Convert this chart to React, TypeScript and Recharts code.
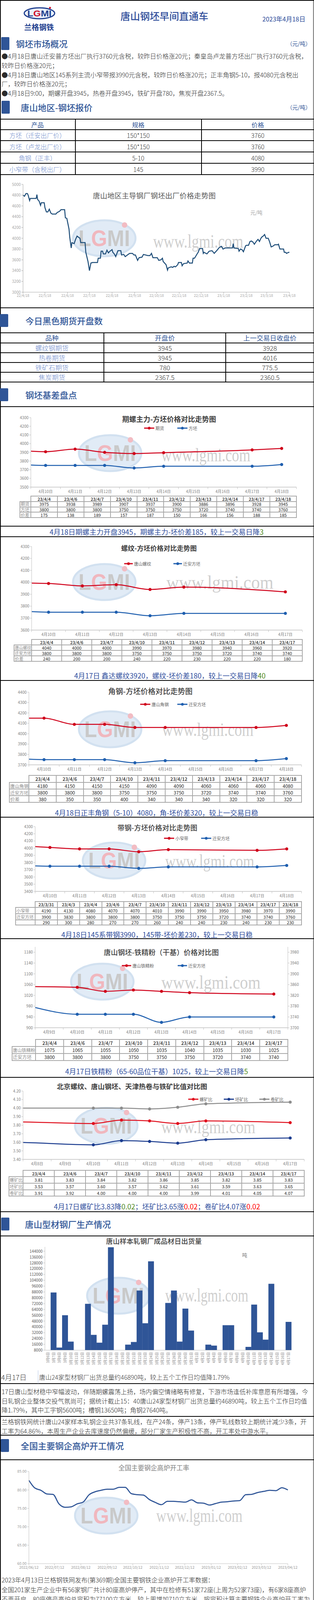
import React from 'react';
import { LineChart, Line, XAxis, YAxis, BarChart, Bar } from 'recharts';

const PAGE_W = 804;
const PAGE_H = 4582;
const FONT = '"Noto Sans CJK SC","Noto Sans",sans-serif';
const NAVY = '#2F5597';
const HEAD = '#2E4C9A';
const CAP = '#2F4E9E';
const GREEN = '#4F8A1E';
const REDTXT = '#FF0000';
const AX_T = '#808080';
const AX_L = '#BFBFBF';
const DAY = 86400000;

// ---------------- data ----------------
const marketLines = [
  '●4月18日唐山迁安普方坯出厂执行3760元含税，较昨日价格涨20元；秦皇岛卢龙普方坯出厂执行3760元含税，',
  '较昨日价格涨20元；',
  '●4月18日唐山地区145系列主流小窄带报3990元含税，较昨日价格涨20元；正丰角钢5-10，报4080元含税出',
  '厂，较昨日价格涨20元；',
  '●4月18日9:00，期螺开盘3945，热卷开盘3945，铁矿开盘780，焦炭开盘2367.5。',
];

const quoteHeader = ['产品', '规格', '价格'];
const quoteProducts = ['方坯（迁安出厂价）', '方坯（卢龙出厂价）', '角钢（正丰）', '小窄带（含税出厂）'];
const quoteSpecs = ['150*150', '150*150', '5-10', '145'];
const quotePrices = ['3760', '3760', '4080', '3990'];

const futHeader = ['品种', '开盘价', '上一交易日收盘价'];
const futNames = ['螺纹钢期货', '热卷期货', '铁矿石期货', '焦炭期货'];
const futOpen = ['3945', '3945', '780', '2367.5'];
const futPrev = ['3928', '4016', '775.5', '2360.5'];

// chart 1: days since 2022-04-18, price
const trendTickLabels = ['22/4/18', '22/5/18', '22/6/18', '22/7/18', '22/8/18', '22/9/18', '22/10/18', '22/11/18', '22/12/18', '23/1/18', '23/2/18', '23/3/18', '23/4/18'];
const trendSeries: [number, number][] = [
  [0, 4800], [2, 4780], [4, 4830], [6, 4830], [7, 4800], [9, 4700], [10, 4740], [12, 4740], [18, 4740], [19, 4810],
  [20, 4720], [22, 4690], [24, 4610], [25, 4660], [29, 4660], [30, 4570], [32, 4490], [34, 4490], [36, 4540], [38, 4470],
  [40, 4450], [45, 4450], [47, 4480], [50, 4500], [52, 4530], [57, 4530], [58, 4380], [60, 4370], [63, 4170], [64, 4020],
  [66, 3820], [67, 3920], [70, 3900], [72, 3980], [74, 4040], [78, 4000], [79, 3920], [85, 3920], [86, 3740], [89, 3570],
  [91, 3400], [93, 3540], [95, 3550], [102, 3550], [103, 3630], [106, 3630], [107, 3760], [109, 3760], [110, 3710], [113, 3710],
  [115, 3780], [117, 3730], [119, 3760], [122, 3790], [123, 3740], [125, 3710], [127, 3660], [130, 3770], [134, 3770], [135, 3690],
  [138, 3700], [140, 3660], [143, 3690], [146, 3720], [150, 3720], [152, 3690], [154, 3690], [157, 3590], [159, 3640], [163, 3650],
  [165, 3700], [171, 3680], [174, 3680], [176, 3720], [178, 3640], [184, 3640], [186, 3590], [189, 3600], [191, 3630], [192, 3570],
  [196, 3510], [198, 3410], [199, 3450], [203, 3470], [205, 3460], [207, 3480], [209, 3470], [212, 3510], [213, 3550], [217, 3550],
  [218, 3490], [220, 3530], [225, 3540], [226, 3580], [228, 3540], [232, 3540], [233, 3630], [235, 3630], [239, 3720], [240, 3740],
  [242, 3810], [246, 3810], [247, 3720], [248, 3740], [252, 3710], [255, 3760], [259, 3770], [262, 3720], [266, 3780], [269, 3830],
  [272, 3850], [274, 3800], [277, 3820], [287, 3820], [288, 3900], [289, 3820], [295, 3810], [296, 3760], [298, 3800], [300, 3790],
  [302, 3750], [305, 3860], [306, 3870], [309, 3870], [311, 3940], [313, 3950], [315, 3930], [317, 3890], [320, 3950], [322, 3980],
  [324, 3940], [326, 4000], [327, 4020], [329, 4040], [331, 4070], [333, 4000], [336, 4000], [338, 3930], [340, 3840], [342, 3850],
  [345, 3880], [349, 3880], [350, 3890], [352, 3800], [354, 3800], [357, 3800], [358, 3740], [360, 3740], [361, 3720], [364, 3740],
  [365, 3740],
];

// chart 2
const c2Cats = ['4月10日', '4月11日', '4月12日', '4月13日', '4月14日', '4月15日', '4月16日', '4月17日', '4月18日'];
const c2Dates = ['23/4/4', '23/4/6', '23/4/7', '23/4/10', '23/4/11', '23/4/12', '23/4/13', '23/4/14', '23/4/17', '23/4/18'];
const c2Futures = [3975, 3938, 3989, 3907, 3937, 3900, 3886, 3896, 3928, 3945];
const c2Billet = [3800, 3800, 3800, 3750, 3750, 3750, 3720, 3740, 3740, 3760];
const c2Spread = [175, 138, 189, 157, 187, 150, 166, 156, 188, 185];

// chart 3
const c3Cats = ['4月10日', '4月11日', '4月12日', '4月13日', '4月14日', '4月15日', '4月16日', '4月17日'];
const c3Dates = ['23/4/4', '23/4/6', '23/4/7', '23/4/10', '23/4/11', '23/4/12', '23/4/13', '23/4/14', '23/4/17'];
const c3Rebar = [4040, 4000, 4000, 3990, 3970, 3980, 3940, 3960, 3920];
const c3Billet = [3800, 3800, 3800, 3750, 3750, 3750, 3720, 3740, 3740];
const c3Spread = [240, 200, 200, 240, 220, 230, 220, 220, 180];

// chart 4
const c4Cats = ['4月10日', '4月11日', '4月12日', '4月13日', '4月14日', '4月15日', '4月16日', '4月17日', '4月18日'];
const c4Dates = ['23/4/4', '23/4/6', '23/4/7', '23/4/10', '23/4/11', '23/4/12', '23/4/13', '23/4/14', '23/4/17', '23/4/18'];
const c4Angle = [4180, 4150, 4150, 4150, 4090, 4090, 4060, 4060, 4060, 4080];
const c4Billet = [3800, 3800, 3800, 3750, 3750, 3750, 3720, 3740, 3740, 3760];
const c4Spread = [380, 350, 350, 400, 340, 340, 340, 320, 320, 320];

// chart 5
const c5Cats = ['4月10日', '4月11日', '4月12日', '4月13日', '4月14日', '4月15日', '4月16日', '4月17日', '4月18日'];
const c5Dates = ['23/3/31', '23/4/3', '23/4/4', '23/4/6', '23/4/7', '23/4/10', '23/4/11', '23/4/12', '23/4/13', '23/4/14', '23/4/17', '23/4/18'];
const c5Strip = [4190, 4130, 4080, 4070, 4070, 4010, 3990, 3990, 3950, 3980, 3970, 3990];
const c5Billet = [3900, 3830, 3800, 3800, 3800, 3750, 3750, 3750, 3720, 3740, 3740, 3760];
const c5Spread = [290, 300, 280, 270, 270, 260, 240, 240, 230, 240, 230, 230];

// chart 6
const c6Cats = ['4月9日', '4月10日', '4月11日', '4月12日', '4月13日', '4月14日', '4月15日', '4月16日', '4月17日'];
const c6Dates = ['23/4/4', '23/4/6', '23/4/7', '23/4/10', '23/4/11', '23/4/12', '23/4/13', '23/4/14', '23/4/17'];
const c6Fines = [1075, 1065, 1055, 1050, 1035, 1040, 1035, 1030, 1025];
const c6Billet = [3800, 3800, 3800, 3750, 3750, 3750, 3720, 3740, 3740];

// chart 7
const c7Cats = ['4月8日', '4月9日', '4月10日', '4月11日', '4月12日', '4月13日', '4月14日', '4月15日', '4月16日', '4月17日'];
const c7Dates = ['23/4/4', '23/4/6', '23/4/7', '23/4/10', '23/4/11', '23/4/12', '23/4/13', '23/4/14', '23/4/17'];
const c7Rebar = [3.81, 3.83, 3.84, 3.82, 3.86, 3.85, 3.82, 3.85, 3.83];
const c7Billet = [3.53, 3.57, 3.60, 3.57, 3.62, 3.61, 3.59, 3.63, 3.65];
const c7Coil = [3.91, 3.92, 4.00, 4.00, 4.00, 3.99, 4.01, 4.05, 4.07];

// chart 8: daily shipments (t)
const shipCats = ['3月6日', '3月7日', '3月8日', '3月9日', '3月10日', '3月11日', '3月12日', '3月13日', '3月14日', '3月15日', '3月16日', '3月17日', '3月18日', '3月19日', '3月20日', '3月21日', '3月22日', '3月23日', '3月24日', '3月25日', '3月26日', '3月27日', '3月28日', '3月29日', '3月30日', '3月31日', '4月1日', '4月2日', '4月3日', '4月4日', '4月5日', '4月6日', '4月7日', '4月8日', '4月9日', '4月10日', '4月11日', '4月12日', '4月13日', '4月14日', '4月15日', '4月16日', '4月17日'];
const shipValues: (number | null)[] = [null, 87300, 11600, 56000, 19800, null, null, 71800, 29100, 18400, 43000, 149500, null, null, 15700, 19300, 90000, 45000, 130100, null, null, 72900, 90000, 19800, 65200, 35000, null, null, 15700, 14300, null, 42400, 42400, null, null, 12600, 70700, 32500, 22500, 99200, null, null, 46890];
const shipTicks = [8000, 16000, 24000, 32000, 40000, 48000, 56000, 64000, 72000, 80000, 88000, 96000, 104000, 112000, 120000, 128000, 136000, 144000];

// chart 9: weekly blast furnace rate (from 2022-06-16)
const bfTickLabels = ['2022/06/12', '2022/07/12', '2022/08/12', '2022/09/12', '2022/10/12', '2022/11/12', '2022/12/12', '2023/01/12', '2023/02/12', '2023/03/12', '2023/04/12'];
const bfRates = [82.6, 80.5, 79.9, 78.9, 78.8, 76.2, 75.3, 75.4, 76.2, 76.7, 78.7, 79.5, 79.9, 80.2, 80.2, 80.7, 80.7, 79.0, 78.7, 78.6, 77.4, 76.6, 76.0, 76.9, 76.9, 76.8, 76.7, 77.3, 76.5, 76.4, 75.9, 76.3, 76.7, 76.8, 77.0, 77.1, 78.7, 78.8, 79.3, 79.6, 79.9, 79.8, 80.6, 79.99];

// chart 10: days since 2022-10-19
const costTickLabels = ['10月19日', '10月26日', '11月2日', '11月9日', '11月16日', '11月23日', '11月30日', '12月7日', '12月14日', '12月21日', '12月28日', '1月4日', '1月11日', '1月18日', '1月25日', '2月1日', '2月8日', '2月15日', '2月22日', '3月1日', '3月8日', '3月15日', '3月22日', '3月29日', '4月5日', '4月12日'];
const qianAnBillet: [number, number][] = [
  [0, 3620], [1, 3590], [2, 3610], [5, 3630], [6, 3580], [7, 3580], [8, 3560], [9, 3510], [11, 3440], [12, 3410],
  [14, 3450], [15, 3450], [16, 3480], [20, 3470], [21, 3490], [22, 3470], [23, 3500], [27, 3520], [28, 3560], [30, 3560],
  [33, 3500], [34, 3510], [35, 3520], [36, 3530], [39, 3550], [41, 3580], [42, 3550], [44, 3550], [47, 3630], [49, 3630],
  [50, 3700], [52, 3730], [56, 3740], [57, 3810], [58, 3810], [60, 3760], [62, 3710], [63, 3750], [64, 3730], [66, 3730],
  [68, 3710], [69, 3710], [70, 3760], [71, 3760], [72, 3780], [73, 3770], [76, 3740], [77, 3730], [78, 3730], [79, 3780],
  [82, 3780], [83, 3800], [84, 3840], [85, 3820], [86, 3850], [87, 3840], [89, 3800], [91, 3800], [93, 3830], [97, 3860],
  [101, 3890], [103, 3900], [104, 3890], [105, 3810], [107, 3810], [110, 3770], [112, 3770], [113, 3790], [114, 3790], [115, 3770],
  [117, 3750], [118, 3770], [121, 3870], [124, 3870], [125, 3930], [126, 3930], [127, 3950], [128, 3930], [131, 3900], [132, 3900],
  [133, 3920], [134, 3940], [135, 3990], [137, 3970], [138, 3940], [139, 3970], [140, 3970], [142, 4030], [143, 4040], [145, 4050],
  [146, 4070], [147, 4050], [148, 4000], [150, 4000], [152, 3970], [153, 3920], [154, 3890], [155, 3840], [156, 3860], [159, 3860],
  [160, 3880], [162, 3880], [163, 3900], [165, 3870], [166, 3830], [167, 3800], [170, 3800], [171, 3770], [173, 3750], [175, 3750],
];
const billetCost: [number, number][] = [
  [0, 3765], [7, 3775], [14, 3740], [21, 3615], [28, 3630], [35, 3655], [42, 3680], [49, 3735], [56, 3840], [63, 3850],
  [70, 3885], [77, 3900], [84, 3875], [91, 3830], [98, 3830], [105, 3820], [112, 3845], [119, 3880], [126, 3905], [133, 3910],
  [140, 3905], [147, 3980], [154, 3955], [161, 3925], [168, 3925], [175, 3870],
];

// ---------------- helpers ----------------
const tblDay = (s: string) => { const [y, m, d] = s.split('/').map(Number); return Date.UTC(2000 + y, m - 1, d) / DAY; };
const catDay = (s: string) => { const m = s.match(/(\d+)月(\d+)日/) as RegExpMatchArray; return Date.UTC(2023, +m[1] - 1, +m[2]) / DAY; };
const costDay = (s: string) => { const m = s.match(/(\d+)月(\d+)日/) as RegExpMatchArray; const mo = +m[1]; return Date.UTC(mo >= 10 ? 2022 : 2023, mo - 1, +m[2]) / DAY; };
const range = (a: number, b: number, s: number) => { const r: number[] = []; for (let v = a; v <= b + 1e-9; v += s) r.push(Math.round(v * 100) / 100); return r; };

function frame(pl: number, pr: number, pt: number, pb: number, yw = 50, rw = 0, xh = 30) {
  return { top: pt - 10, height: pb - pt + 10 + xh, axisY: pb - pt + 10, margin: { top: 10, right: PAGE_W - pr - rw, bottom: 0, left: pl - yw } };
}

type TxtProps = { x: number; y: number; size?: number; color?: string; anchor?: 'left' | 'center' | 'right'; weight?: number; children?: React.ReactNode; family?: string; lh?: number };
function Txt({ x, y, size = 16, color = '#222', anchor = 'left', weight = 400, children, family = FONT, lh }: TxtProps) {
  const h = lh ?? Math.round(size * 1.4);
  const style: React.CSSProperties = { position: 'absolute', top: y - h / 2, height: h, lineHeight: h + 'px', fontSize: size, color, fontWeight: weight, fontFamily: family, whiteSpace: 'nowrap' };
  if (anchor === 'left') style.left = x;
  else if (anchor === 'right') style.right = PAGE_W - x;
  else { style.left = x; style.transform = 'translateX(-50%)'; }
  return <div style={style}>{children}</div>;
}

function Hl({ y, x1 = 0, x2 = PAGE_W, c = '#000', t = 1.5 }: { y: number; x1?: number; x2?: number; c?: string; t?: number }) {
  return <div style={{ position: 'absolute', left: x1, top: y - t / 2, width: x2 - x1, height: t, background: c }} />;
}
function Vl({ x, y1, y2, c = '#000', t = 1.5 }: { x: number; y1: number; y2: number; c?: string; t?: number }) {
  return <div style={{ position: 'absolute', left: x - t / 2, top: y1, width: t, height: y2 - y1, background: c }} />;
}

function Section({ y, title, barX, textX, unit }: { y: number; title: string; barX: number; textX: number; unit?: boolean }) {
  return (
    <>
      <div style={{ position: 'absolute', left: barX, top: y - 16.5, width: 21, height: 33, background: NAVY, borderRadius: 2 }} />
      <Txt x={textX} y={y} size={22} color={NAVY} weight={500}>{title}</Txt>
      {unit && <Txt x={796} y={y} size={14} color={NAVY} anchor="right">（元/吨）</Txt>}
    </>
  );
}

type LegItem = { x: number; label: string; color: string; dot?: boolean; w?: number };
function Legend({ y, items }: { y: number; items: LegItem[] }) {
  return (
    <>
      {items.map((it, i) => {
        const w = it.w ?? 26;
        return (
          <div key={i} style={{ position: 'absolute', left: it.x, top: y - 9, height: 18, lineHeight: '18px', display: 'flex', alignItems: 'center', whiteSpace: 'nowrap' }}>
            <svg width={w} height={10} style={{ marginRight: 3 }}>
              <line x1={0} y1={5} x2={w} y2={5} stroke={it.color} strokeWidth={3} />
              {it.dot !== false && <circle cx={w / 2} cy={5} r={3.5} fill={it.color} />}
            </svg>
            <span style={{ fontSize: 11, lineHeight: '18px', color: '#666', fontFamily: FONT }}>{it.label}</span>
          </div>
        );
      })}
    </>
  );
}

function SmallTable({ x0, x1, x2, ys, header, rows, fs = 11 }: { x0: number; x1: number; x2: number; ys: number[]; header: string[]; rows: { label: string; values: string[] }[]; fs?: number }) {
  const n = header.length;
  const cw = (x2 - x1) / n;
  const LC = '#A8A8A8';
  const els: React.ReactNode[] = [];
  ys.forEach((y, i) => els.push(<div key={'h' + i} style={{ position: 'absolute', left: i === 0 ? x1 : x0, top: y - 1, width: i === 0 ? x2 - x1 : x2 - x0, height: 2, background: LC }} />));
  for (let j = 0; j <= n; j++) {
    const x = x1 + j * cw;
    els.push(<div key={'v' + j} style={{ position: 'absolute', left: x - 1, top: ys[0] - 1, width: 2, height: ys[ys.length - 1] - ys[0] + 2, background: LC }} />);
  }
  els.push(<div key="v0" style={{ position: 'absolute', left: x0 - 1, top: ys[1] - 1, width: 2, height: ys[ys.length - 1] - ys[1] + 2, background: LC }} />);
  const cell = (key: string, x: number, w: number, y0: number, y1: number, text: string, opts: React.CSSProperties) => (
    <div key={key} style={{ position: 'absolute', left: x, top: y0, width: w, height: y1 - y0, lineHeight: (y1 - y0) + 'px', textAlign: 'center', fontSize: fs, fontFamily: FONT, color: '#262626', whiteSpace: 'nowrap', ...opts }}>{text}</div>
  );
  header.forEach((h, j) => els.push(cell('hd' + j, x1 + j * cw, cw, ys[0], ys[1], h, { fontWeight: 500 })));
  rows.forEach((r, i) => {
    const lw = x1 - x0 - 2;
    const lfs = Math.min(fs, (lw - 1) / Math.max(1, r.label.length));
    els.push(cell('lb' + i, x0 + 2, lw, ys[i + 1], ys[i + 2], r.label, { textAlign: 'left', color: '#8C8C8C', fontSize: lfs }));
    r.values.forEach((v, j) => els.push(cell('c' + i + '_' + j, x1 + j * cw, cw, ys[i + 1], ys[i + 2], v, {})));
  });
  return <>{els}</>;
}

const tickStyle = { fontSize: 10, fill: AX_T, fontFamily: FONT };

// category tick: label at the band centre given by the axis, tick marks at the band edges
function CatTick(props: any) {
  const { x, payload, fmt, band, axisY, n } = props;
  const idx = Math.round(payload.value - 0.5);
  return (
    <g>
      <line x1={x - band / 2} x2={x - band / 2} y1={axisY} y2={axisY + 5} stroke={AX_L} />
      {idx === n - 1 && <line x1={x + band / 2} x2={x + band / 2} y1={axisY} y2={axisY + 5} stroke={AX_L} />}
      <text x={x} y={axisY + 15} textAnchor="middle" fontSize={10} fill={AX_T} fontFamily={FONT}>{fmt(payload.value)}</text>
    </g>
  );
}

type CatSeries = { vals: number[]; color: string; axis?: 'L' | 'R' };
function CatChart({ pl, pr, pt, pb, cats, dates, series, yDomain, yTicks, yFmt, rDomain, rTicks }: {
  pl: number; pr: number; pt: number; pb: number; cats: string[]; dates: string[]; series: CatSeries[];
  yDomain: [number, number]; yTicks: number[]; yFmt?: (v: number) => string; rDomain?: [number, number]; rTicks?: number[];
}) {
  const hasR = !!rDomain;
  const f = frame(pl, pr, pt, pb, 50, hasR ? 50 : 0, 30);
  const n = cats.length;
  const c0 = catDay(cats[0]);
  const data = dates.map((d, i) => {
    const row: Record<string, number> = { x: tblDay(d) - c0 + 0.5 };
    series.forEach((s, k) => { row['s' + k] = s.vals[i]; });
    return row;
  });
  const labTicks = cats.map((_, i) => i + 0.5);
  const fmt = (v: number) => cats[Math.round(v - 0.5)] ?? '';
  return (
    <div style={{ position: 'absolute', left: 0, top: f.top }}>
      <LineChart width={PAGE_W} height={f.height} margin={f.margin} data={data}>
        <XAxis type="number" dataKey="x" domain={[0, n]} allowDataOverflow ticks={labTicks} interval={0} height={30}
          axisLine={{ stroke: AX_L, strokeWidth: 1.5 }} tickLine={false}
          tick={<CatTick fmt={fmt} band={(pr - pl) / n} axisY={f.axisY} n={n} />} />
        <YAxis yAxisId="L" domain={yDomain} ticks={yTicks} tickFormatter={yFmt} width={50} tick={tickStyle} axisLine={{ stroke: AX_L }} tickLine={{ stroke: AX_L }} tickSize={4} interval={0} />
        {hasR && <YAxis yAxisId="R" orientation="right" domain={rDomain} ticks={rTicks} width={50} tick={tickStyle} axisLine={{ stroke: AX_L }} tickLine={{ stroke: AX_L }} tickSize={4} interval={0} />}
        {series.map((s, k) => (
          <Line key={k} yAxisId={s.axis ?? 'L'} type="monotone" dataKey={'s' + k} stroke={s.color} strokeWidth={2.5}
            dot={{ r: 3.5, fill: s.color, stroke: s.color, strokeWidth: 1 }} isAnimationActive={false} />
        ))}
      </LineChart>
    </div>
  );
}

function TrendChart() {
  const f = frame(59, 741, 472, 748, 50, 0, 30);
  const base = tblDay(trendTickLabels[0]);
  const ticks = trendTickLabels.map((l) => tblDay(l) - base);
  const data = trendSeries.map(([d, v]) => ({ d, v }));
  return (
    <div style={{ position: 'absolute', left: 0, top: f.top }}>
      <LineChart width={PAGE_W} height={f.height} margin={f.margin} data={data}>
        <XAxis type="number" dataKey="d" domain={[0, 365]} ticks={ticks} interval={0} tickFormatter={(v: number) => trendTickLabels[ticks.indexOf(v)]} tick={{ fontSize: 9, fill: '#A6A6A6', fontFamily: FONT }} axisLine={{ stroke: '#A6A6A6' }} tickLine={{ stroke: '#A6A6A6' }} tickSize={4} height={30} />
        <YAxis domain={[3000, 5000]} ticks={range(3000, 5000, 200)} width={50} interval={0} tick={{ fontSize: 10, fill: '#A6A6A6', fontFamily: FONT }} axisLine={{ stroke: '#A6A6A6' }} tickLine={{ stroke: '#A6A6A6' }} tickSize={4} />
        <Line type="linear" dataKey="v" stroke="#1F4E79" strokeWidth={2.5} dot={false} isAnimationActive={false} />
      </LineChart>
    </div>
  );
}

function RotTick(props: any) {
  const { x, payload, fs = 9, fmt, axisY } = props;
  const label = fmt ? fmt(payload.value) : payload.value;
  return (
    <text transform={`translate(${x},${axisY + 5}) rotate(-90)`} textAnchor="end" dominantBaseline="central" fontSize={fs} fill={AX_T} fontFamily={FONT}>{label}</text>
  );
}

function ShipChart() {
  const f = frame(115, 746, 3191.5, 3456, 60, 0, 52);
  const data = shipCats.map((c, i) => ({ cat: c, v: shipValues[i] }));
  return (
    <div style={{ position: 'absolute', left: 0, top: f.top }}>
      <BarChart width={PAGE_W} height={f.height} margin={f.margin} data={data} barCategoryGap={0} barGap={0}>
        <XAxis dataKey="cat" interval={0} height={52} tick={<RotTick fs={9} axisY={f.axisY} />} tickLine={false} axisLine={{ stroke: AX_L }} />
        <YAxis domain={[8000, 150000]} ticks={shipTicks} width={60} interval={0} allowDataOverflow tick={{ fontSize: 10, fill: '#595959', fontFamily: FONT }} axisLine={{ stroke: AX_L }} tickLine={{ stroke: AX_L }} tickSize={4} />
        <Bar dataKey="v" fill="#2F5597" isAnimationActive={false} />
      </BarChart>
    </div>
  );
}

function BfChart() {
  const f = frame(74, 737, 3767, 4003, 50, 0, 25);
  const span = (bfRates.length - 1) * 7;
  const origin = Date.UTC(2022, 5, 12) / DAY;
  const axisDays = (Date.UTC(2023, 3, 12) / DAY) - origin;
  const tickPos = bfTickLabels.map((l) => { const [y, m, d] = l.split('/').map(Number); return ((Date.UTC(y, m - 1, d) / DAY) - origin) * span / axisDays; });
  const data = bfRates.map((v, i) => ({ x: i * 7, v }));
  return (
    <div style={{ position: 'absolute', left: 0, top: f.top }}>
      <LineChart width={PAGE_W} height={f.height} margin={f.margin} data={data}>
        <XAxis type="number" dataKey="x" domain={[0, span]} ticks={tickPos} interval={0} tickFormatter={(v: number) => bfTickLabels[tickPos.indexOf(v)]} tick={{ fontSize: 9.5, fill: '#999', fontFamily: FONT }} axisLine={{ stroke: AX_L }} tickLine={{ stroke: AX_L }} tickSize={4} height={25} />
        <YAxis domain={[60, 85]} ticks={[60, 65, 70, 75, 80, 85]} tickFormatter={(v: number) => v.toFixed(2)} width={50} interval={0} tick={{ fontSize: 9.5, fill: '#999', fontFamily: FONT }} axisLine={{ stroke: AX_L }} tickLine={{ stroke: AX_L }} tickSize={4} />
        <Line type="monotone" dataKey="v" stroke="#2F5597" strokeWidth={2.8} dot={false} isAnimationActive={false} />
      </LineChart>
    </div>
  );
}

function CostChart() {
  const f = frame(55, 767, 4245, 4483, 50, 0, 50);
  const base = costDay(costTickLabels[0]);
  const ticks = costTickLabels.map((l) => costDay(l) - base);
  const rm = new Map(qianAnBillet);
  const bm = new Map(billetCost);
  const days = Array.from(new Set([...qianAnBillet.map((p) => p[0]), ...billetCost.map((p) => p[0])])).sort((a, b) => a - b);
  const data = days.map((d) => ({ d, r: rm.has(d) ? rm.get(d) : null, b: bm.has(d) ? bm.get(d) : null }));
  const fmt = (v: number) => costTickLabels[ticks.indexOf(v)];
  return (
    <div style={{ position: 'absolute', left: 0, top: f.top }}>
      <LineChart width={PAGE_W} height={f.height} margin={f.margin} data={data}>
        <XAxis type="number" dataKey="d" domain={[0, 175]} ticks={ticks} interval={0} height={50} tick={<RotTick fs={8} fmt={fmt} axisY={f.axisY} />} axisLine={{ stroke: AX_L }} tickLine={{ stroke: AX_L }} tickSize={4} />
        <YAxis domain={[3300, 4200]} ticks={range(3300, 4200, 150)} width={50} interval={0} tick={{ fontSize: 10, fill: AX_T, fontFamily: FONT }} axisLine={{ stroke: AX_L }} tickLine={{ stroke: AX_L }} tickSize={4} />
        <Line type="stepAfter" dataKey="b" stroke="#2F5597" strokeWidth={2.5} dot={false} connectNulls isAnimationActive={false} />
        <Line type="linear" dataKey="r" stroke="#C00000" strokeWidth={2.5} dot={false} connectNulls isAnimationActive={false} />
      </LineChart>
    </div>
  );
}

const wmarks = [
  { cx: 267, cy: 610, tx: 392, ty: 620, tw: 231 },
  { cx: 282, cy: 1160, tx: 413, ty: 1167, tw: 228 },
  { cx: 267, cy: 1490, tx: 426, ty: 1493, tw: 274 },
  { cx: 282, cy: 1867, tx: 415, ty: 1870, tw: 234 },
  { cx: 292, cy: 2203, tx: 423, ty: 2207, tw: 228 },
  { cx: 262, cy: 2513, tx: 413, ty: 2517, tw: 254 },
  { cx: 272, cy: 2882, tx: 413, ty: 2887, tw: 241 },
  { cx: 303, cy: 3317, tx: 423, ty: 3318, tw: 213 },
  { cx: 272, cy: 3880, tx: 400, ty: 3882, tw: 221 },
  { cx: 267, cy: 4372, tx: 405, ty: 4378, tw: 239 },
];

function Watermarks() {
  return (
    <svg width={PAGE_W} height={PAGE_H} style={{ position: 'absolute', left: 0, top: 0 }}>
      {wmarks.map((w, i) => (
        <g key={i}>
          <ellipse cx={w.cx} cy={w.cy} rx={80} ry={46} fill="#D7E5F3" stroke="#C3D7EC" strokeWidth={5} opacity={0.75} />
          <text x={w.cx - 66} y={w.cy + 20} fontSize={58} fontWeight="bold" fill="#C9C9C9" textLength={132} lengthAdjust="spacingAndGlyphs" fontFamily="Liberation Sans, sans-serif">
            L<tspan fill="#F0B7BE">G</tspan>MI
          </text>
          <circle cx={w.cx + 52} cy={w.cy - 34} r={7} fill="#F2BCC3" />
          <text x={w.tx} y={w.ty + 14} fontSize={48} fill="#CFCFCF" textLength={w.tw} lengthAdjust="spacingAndGlyphs" fontFamily="Liberation Serif, serif">www.lgmi.com</text>
        </g>
      ))}
    </svg>
  );
}

function Logo() {
  return (
    <>
      <svg width={100} height={40} style={{ position: 'absolute', left: 51, top: 14 }}>
        <ellipse cx={50} cy={20} rx={39} ry={14} fill="#EAF1FA" stroke="#1F3F8F" strokeWidth={3} />
        <text x={50} y={28} textAnchor="middle" fontSize={22} fontWeight="bold" fill="#1F3F8F" fontFamily="Liberation Sans, sans-serif" textLength={62} lengthAdjust="spacingAndGlyphs">
          L<tspan fill="#D0102A">G</tspan>MI
        </text>
        <circle cx={77} cy={6} r={2.5} fill="#D0102A" />
      </svg>
      <Txt x={100} y={68} size={19} color="#1F3F8F" anchor="center" weight={700}>兰格钢铁</Txt>
    </>
  );
}

const rules = [305, 332, 360, 389, 418, 447, 788, 852, 878, 903, 928, 953, 978, 1041, 1347, 1374, 1742, 2092, 2403, 2758, 3102, 3164, 3542, 3626, 3674, 3737, 4174, 4207];

export default function App() {
  const q = (v: number) => String(v);
  return (
    <div style={{ position: 'relative', width: PAGE_W, height: PAGE_H, background: '#fff', fontFamily: FONT, overflow: 'hidden' }}>
      <style>{'body{margin:0}'}</style>
      <Watermarks />

      {/* frame */}
      <Hl y={0.75} />
      <Hl y={PAGE_H - 0.75} />
      <Vl x={0.75} y1={0} y2={PAGE_H} />
      <Vl x={802.5} y1={0} y2={PAGE_H} />
      {rules.map((y) => <Hl key={y} y={y} />)}

      {/* header */}
      <Logo />
      <Txt x={421} y={40} size={25} color={HEAD} anchor="center" weight={500}>唐山钢坯早间直通车</Txt>
      <Txt x={782} y={48} size={16} color={HEAD} anchor="right">2023年4月18日</Txt>

      <Section y={111} title="钢坯市场概况" barX={3} textX={41} unit />
      {marketLines.map((l, i) => <Txt key={i} x={4} y={143 + i * 23.8} size={16} color="#2B2B2B" weight={300}>{l}</Txt>)}

      <Section y={274} title="唐山地区-钢坯报价" barX={4} textX={53} unit />
      <Vl x={193} y1={305} y2={447} />
      <Vl x={516} y1={305} y2={447} />
      {quoteHeader.map((h, j) => <Txt key={h} x={[96, 354, 660][j]} y={318.5} size={16} color={NAVY} anchor="center">{h}</Txt>)}
      {quoteProducts.map((p, i) => {
        const y = [346, 374.5, 403.5, 432.5][i];
        return (
          <React.Fragment key={i}>
            <Txt x={96} y={y} size={16} color="#6A88C9" anchor="center" weight={300}>{p}</Txt>
            <Txt x={354} y={y} size={16} color="#333" anchor="center" weight={300}>{quoteSpecs[i]}</Txt>
            <Txt x={660} y={y} size={16} color="#333" anchor="center" weight={300}>{quotePrices[i]}</Txt>
          </React.Fragment>
        );
      })}

      {/* chart 1 */}
      <Txt x={395} y={500} size={18.5} color="#595959" anchor="center">唐山地区主导钢厂钢坯出厂价格走势图</Txt>
      <Txt x={641} y={544} size={13} color="#A6A6A6">元/吨</Txt>
      <TrendChart />

      <Section y={820} title="今日黑色期货开盘数" barX={0} textX={65} />
      <Vl x={266} y1={852} y2={978} />
      <Vl x={578} y1={852} y2={978} />
      {futHeader.map((h, j) => <Txt key={h} x={[133, 422, 691][j]} y={865} size={17} color={NAVY} anchor="center" lh={24}>{h}</Txt>)}
      {futNames.map((nm, i) => {
        const y = [890.5, 915.5, 940.5, 965.5][i];
        return (
          <React.Fragment key={i}>
            <Txt x={133} y={y} size={17} color="#6A88C9" anchor="center" weight={300} lh={23}>{nm}</Txt>
            <Txt x={422} y={y} size={17} color="#333" anchor="center" weight={300} lh={23}>{futOpen[i]}</Txt>
            <Txt x={691} y={y} size={17} color="#333" anchor="center" weight={300} lh={23}>{futPrev[i]}</Txt>
          </React.Fragment>
        );
      })}

      <Section y={1010} title="钢坯基差盘点" barX={0} textX={65} />

      {/* chart 2 */}
      <Txt x={433} y={1072} size={18} color="#404040" anchor="center" weight={700}>期螺主力-方坯价格对比走势图</Txt>
      <Legend y={1096} items={[{ x: 369, label: '期货', color: '#D0021B' }, { x: 454, label: '方坯', color: '#1F5FAF' }]} />
      <CatChart pl={79} pr={759} pt={1069} pb={1247} cats={c2Cats} dates={c2Dates}
        series={[{ vals: c2Futures, color: '#D0021B' }, { vals: c2Billet, color: '#1F5FAF' }]}
        yDomain={[3500, 4300]} yTicks={range(3500, 4300, 100)} />
      <SmallTable x0={51} x1={79} x2={759} ys={[1270, 1284, 1297.5, 1311, 1325]} header={c2Dates}
        rows={[{ label: '期货', values: c2Futures.map(q) }, { label: '方坯', values: c2Billet.map(q) }, { label: '价差', values: c2Spread.map(q) }]} />
      <Txt x={401} y={1361} size={18} color={CAP} anchor="center" lh={24}>4月18日期螺主力开盘3945，期螺主力-坯价差185，较上一交易日降<span style={{ color: GREEN }}>3</span></Txt>

      {/* chart 3 */}
      <Txt x={407} y={1403} size={17} color="#404040" anchor="center" weight={700}>螺纹-方坯价格对比走势图</Txt>
      <Legend y={1443} items={[{ x: 318, label: '唐山螺纹', color: '#D0021B', w: 22 }, { x: 444, label: '迁安方坯', color: '#1F5FAF', w: 22 }]} />
      <CatChart pl={81} pr={774} pt={1399} pb={1613} cats={c3Cats} dates={c3Dates}
        series={[{ vals: c3Rebar, color: '#D0021B' }, { vals: c3Billet, color: '#1F5FAF' }]}
        yDomain={[3600, 4300]} yTicks={range(3600, 4300, 100)} />
      <SmallTable x0={36} x1={81} x2={774} ys={[1637, 1651, 1665, 1679, 1693]} header={c3Dates}
        rows={[{ label: '唐山螺纹', values: c3Rebar.map(q) }, { label: '迁安方坯', values: c3Billet.map(q) }, { label: '价差', values: c3Spread.map(q) }]} />
      <Txt x={435} y={1729} size={18} color={CAP} anchor="center">4月17日 鑫达螺纹3920，螺纹-坯价差180，较上一交易日降<span style={{ color: GREEN }}>40</span></Txt>

      {/* chart 4 */}
      <Txt x={385} y={1768} size={19} color="#404040" anchor="center" weight={500}>角钢-方坯价格对比走势图</Txt>
      <Legend y={1803} items={[{ x: 359, label: '唐山角钢', color: '#D0021B' }, { x: 454, label: '迁安方坯', color: '#1F5FAF' }]} />
      <CatChart pl={74} pr={772} pt={1772} pb={1958} cats={c4Cats} dates={c4Dates}
        series={[{ vals: c4Angle, color: '#D0021B' }, { vals: c4Billet, color: '#1F5FAF' }]}
        yDomain={[3700, 4400]} yTicks={range(3700, 4400, 100)} />
      <SmallTable x0={24} x1={74} x2={772} ys={[1985, 2003, 2020, 2037, 2054]} header={c4Dates} fs={12}
        rows={[{ label: '唐山角钢', values: c4Angle.map(q) }, { label: '迁安方坯', values: c4Billet.map(q) }, { label: '价差', values: c4Spread.map(q) }]} />
      <Txt x={401} y={2080} size={18} color={CAP} anchor="center">4月18日正丰角钢（5-10）4080，角-坯价差320，较上一交易日稳</Txt>

      {/* chart 5 */}
      <Txt x={403} y={2118} size={18} color="#404040" anchor="center" weight={500}>带钢-方坯价格对比走势图</Txt>
      <Legend y={2146} items={[{ x: 420, label: '小窄带', color: '#D0021B' }, { x: 515, label: '迁安方坯', color: '#1F5FAF' }]} />
      <CatChart pl={90} pr={772} pt={2116} pb={2282} cats={c5Cats} dates={c5Dates}
        series={[{ vals: c5Strip, color: '#D0021B' }, { vals: c5Billet, color: '#1F5FAF' }]}
        yDomain={[3400, 4300]} yTicks={range(3400, 4300, 100)} />
      <SmallTable x0={40} x1={90} x2={772} ys={[2308, 2323, 2339, 2355, 2368]} header={c5Dates}
        rows={[{ label: '小窄带', values: c5Strip.map(q) }, { label: '迁安方坯', values: c5Billet.map(q) }, { label: '', values: c5Spread.map(q) }]} />
      <Txt x={402} y={2392} size={18} color={CAP} anchor="center">4月18日145系带钢3990，145带-坯价差230，较上一交易日稳</Txt>

      {/* chart 6 */}
      <Txt x={413} y={2437} size={18} color="#404040" anchor="center" weight={500}>唐山钢坯-铁精粉（干基）价格对比图</Txt>
      <Legend y={2472} items={[{ x: 312, label: '唐山铁精粉', color: '#D0021B', w: 24 }, { x: 455, label: '迁安方坯', color: '#1F5FAF', w: 24 }]} />
      <CatChart pl={90} pr={737} pt={2424} pb={2631} cats={c6Cats} dates={c6Dates}
        series={[{ vals: c6Fines, color: '#D0021B', axis: 'L' }, { vals: c6Billet, color: '#1F5FAF', axis: 'R' }]}
        yDomain={[900, 1200]} yTicks={range(900, 1180, 40)} rDomain={[3700, 4000]} rTicks={range(3700, 3980, 40)} />
      <SmallTable x0={31} x1={91} x2={737} ys={[2661, 2679, 2697, 2715]} header={c6Dates} fs={12}
        rows={[{ label: '唐山铁精粉', values: c6Fines.map(q) }, { label: '迁安方坯', values: c6Billet.map(q) }]} />
      <Txt x={401} y={2742} size={18} color={CAP} anchor="center">4月17日铁精粉（65-60品位干基）1025，较上一交易日降<span style={{ color: GREEN }}>5</span></Txt>

      {/* chart 7 */}
      <Txt x={338} y={2780} size={17.5} color="#404040" anchor="center" weight={700}>北京螺纹、唐山钢坯、天津热卷与铁矿比值对比图</Txt>
      <Legend y={2814} items={[{ x: 482, label: '螺矿比', color: '#E0101E' }, { x: 573, label: '坯矿比', color: '#1B3C8F' }, { x: 664, label: '卷矿比', color: '#8D8D8D' }]} />
      <CatChart pl={59} pr={779} pt={2793} pb={2968} cats={c7Cats} dates={c7Dates}
        series={[{ vals: c7Rebar, color: '#E0101E' }, { vals: c7Billet, color: '#1B3C8F' }, { vals: c7Coil, color: '#8D8D8D' }]}
        yDomain={[3.4, 4.2]} yTicks={range(3.4, 4.2, 0.1)} yFmt={(v: number) => v.toFixed(2)} />
      <SmallTable x0={23} x1={59} x2={779} ys={[2996, 3012, 3029, 3045.5, 3062]} header={c7Dates}
        rows={[{ label: '螺矿比', values: c7Rebar.map((v) => v.toFixed(2)) }, { label: '坯矿比', values: c7Billet.map((v) => v.toFixed(2)) }, { label: '卷矿比', values: c7Coil.map((v) => v.toFixed(2)) }]} />
      <Txt x={402} y={3088} size={18} color={CAP} anchor="center">
        4月17日螺矿比3.83降<span style={{ color: GREEN }}>0.02</span>；坯矿比3.65涨<span style={{ color: REDTXT }}>0.02</span>；卷矿比4.07涨<span style={{ color: REDTXT }}>0.02</span>
      </Txt>

      <Section y={3133} title="唐山型材钢厂生产情况" barX={3} textX={64} />

      {/* chart 8 */}
      <Txt x={394} y={3176} size={17.5} color="#404040" anchor="center" weight={500}>唐山样本轧钢厂成品材日出货量</Txt>
      <Txt x={620} y={3213} size={13} color="#808080">吨</Txt>
      <ShipChart />
      <Txt x={3} y={3525} size={18} color="#333" weight={300} lh={24}>4月17日</Txt>
      <Vl x={97} y1={3508} y2={3542} c="#B4C7E7" t={1} />
      <Txt x={100} y={3525} size={16} color="#333" weight={300}>唐山24家型材钢厂出货总量约46890吨，较上五个工作日均值降1.79%</Txt>
      <Txt x={4} y={3562} size={16} color="#2B2B2B" weight={300}>17日唐山型材稳中窄幅波动，伴随期螺震荡上扬，场内偏空情绪略有修复，下游市场逢低补库意愿有所增强，今</Txt>
      <Txt x={4} y={3585.5} size={16} color="#2B2B2B" weight={300}>日轧钢企业整体交投气氛尚可；据统计截止15：40唐山24家型材钢厂出货总量约46890吨，较上五个工作日均值</Txt>
      <Txt x={4} y={3609} size={16} color="#2B2B2B" weight={300}>降1.79%，其中工字钢5600吨；槽钢13650吨；角钢27640吨。</Txt>
      <Txt x={4} y={3639} size={16} color="#2B2B2B" weight={300}>兰格钢铁网统计唐山24家样本轧钢企业共37条轧线，在产24条，停产13条，停产轧线数较上期统计减少3条，开</Txt>
      <Txt x={4} y={3663} size={16} color="#2B2B2B" weight={300}>工率为64.86%，本周生产企业去库速度仍然偏缓，部分厂家生产积极性不高，开工率处中游水平。</Txt>

      <Section y={3700} title="全国主要钢企高炉开工情况" barX={2} textX={53} />

      {/* chart 9 */}
      <Txt x={394} y={3757} size={16.5} color="#7F7F7F" anchor="center">全国主要钢企高炉开工率</Txt>
      <BfChart />
      <Txt x={4} y={4044} size={16} color="#2B2B2B" weight={300}>2023年4月13日兰格钢铁网发布(第369期)全国主要钢铁企业高炉开工率数据：</Txt>
      <Txt x={4} y={4068.5} size={16} color="#2B2B2B" weight={300}>全国201家生产企业中有56家钢厂共计80座高炉停产，其中在检修有51家72座(上周为52家73座)，有6家8座高炉</Txt>
      <Txt x={4} y={4093} size={16} color="#2B2B2B" weight={300}>不再开启，80座停产高炉总容积为77100立方米，较上周增加710立方米，按容积计算主要钢铁企业高炉开工率为</Txt>
      <Txt x={4} y={4116.5} size={16} color="#2B2B2B" weight={300}>79.99%，较上周下降0.07%。</Txt>
      <Txt x={4} y={4140} size={16} color="#2B2B2B" weight={300}>影响日铁水量为21.86万吨，较上周增加0.18万吨。</Txt>
      <Txt x={4} y={4162} size={14} color="#1A1A1A" weight={700} lh={18}>注：自7月21日开始，兰格钢铁网对原样本160家571座高炉样本进行更换，新样本为201家650座。</Txt>

      <Section y={4192} title="唐山钢坯成本" barX={5} textX={64} />

      {/* chart 10 */}
      <Txt x={405} y={4228} size={17} color="#404040" anchor="center" weight={700}>钢坯出厂价与钢坯生产成本均价走势对比图</Txt>
      <Legend y={4266} items={[{ x: 297, label: '迁安方坯', color: '#C00000', dot: false }, { x: 432, label: '钢坯成本均价', color: '#2F5597', dot: false }]} />
      <CostChart />
      <Txt x={4} y={4548} size={16.3} color="#2B2B2B" weight={300} lh={22}>本周（4月12日）唐山地区样本长流程钢厂，钢坯含税累计成本（调研值，不含三费）均值为3870元，周环比降</Txt>
      <Txt x={4} y={4571} size={16.3} color="#2B2B2B" weight={300} lh={20}><span style={{ color: GREEN }}>50</span>元。</Txt>
    </div>
  );
}
